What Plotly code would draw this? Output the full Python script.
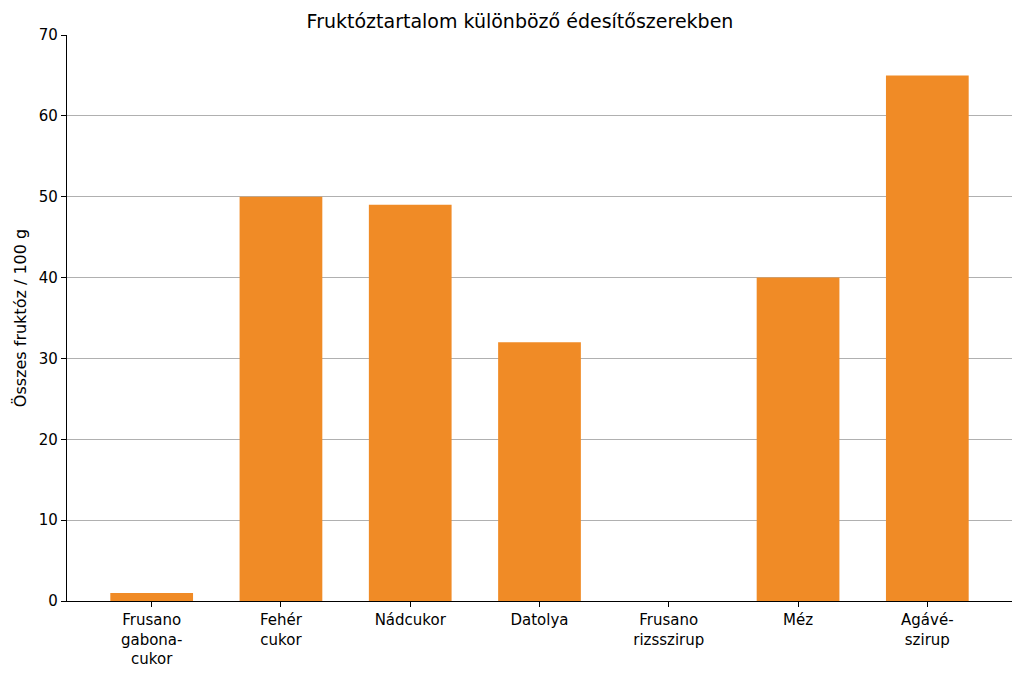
import plotly.graph_objects as go

categories = ["Frusano<br>gabona-<br>cukor", "Fehér<br>cukor", "Nádcukor", "Datolya",
              "Frusano<br>rizsszirup", "Méz", "Agávé-<br>szirup"]
fructose = [1, 50, 49, 32, 0, 40, 65]

fig = go.Figure(go.Bar(x=list(range(len(categories))), y=fructose, marker_color="#F08B26",
                       marker_line_width=0, width=0.64))

fig.update_layout(
    width=1024, height=677,
    margin=dict(l=59, r=20, t=27, b=84),
    paper_bgcolor="white", plot_bgcolor="white",
    font=dict(family="DejaVu Sans", size=15, color="black"),
    title=dict(text="Fruktóztartalom különböző édesítőszerekben", x=0.5, xanchor="center",
               y=0.99, yanchor="top", font=dict(size=19)),
    showlegend=False,
)
fig.update_xaxes(range=[-0.655, 6.655], tickmode="array", tickvals=list(range(len(categories))),
                 ticktext=categories, showline=True, linecolor="black", linewidth=1.2,
                 ticks="outside", ticklen=5, tickcolor="black", showgrid=False, zeroline=False)
fig.update_yaxes(range=[0, 70], dtick=10, showline=True, linecolor="black", linewidth=1.2,
                 ticks="outside", ticklen=5, tickcolor="black", showgrid=True,
                 gridcolor="#b0b0b0", gridwidth=1, zeroline=False,
                 title=dict(text="Összes fruktóz / 100 g", standoff=8, font=dict(size=16)))

fig.write_html("out.html")
